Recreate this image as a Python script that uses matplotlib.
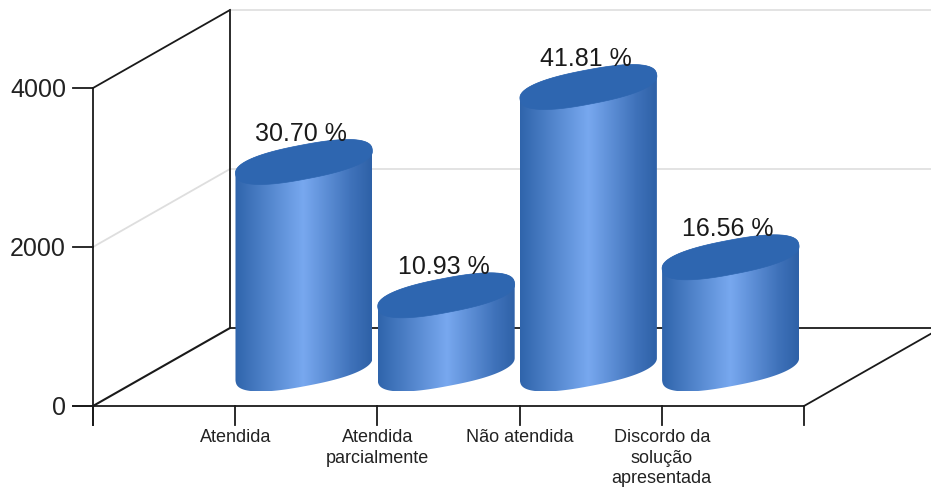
import numpy as np
import matplotlib
matplotlib.use('Agg')
import matplotlib.pyplot as plt
from matplotlib.colors import LinearSegmentedColormap
from matplotlib.patches import Polygon

plt.rcParams['font.family'] = ['Liberation Sans', 'DejaVu Sans']

categories = ['Atendida', 'Atendida\nparcialmente', 'Não atendida', 'Discordo da\nsolução\napresentada']
values = [2604, 927, 3547, 1405]
percents = ['30.70 %', '10.93 %', '41.81 %', '16.56 %']
yticks = [0, 2000, 4000]

W, H = 931, 490
# one category step and one value unit in pixels, then the depth of the 3d box
step = 142.2
unit = 318 / 4000
dx = 137 / step
dy = 78 / unit
xmax = 5

fig = plt.figure(figsize=(W / 100, H / 100), dpi=100)
ax = fig.add_axes([0, 0, 1, 1])
ax.axis('off')

black = '#1a1a1a'
grid = '#dedede'

# walls
for v in yticks[1:]:
    c = black if v == 4000 else grid
    ax.plot([0, dx], [v, v + dy], color=c, lw=1.3, zorder=1)
    ax.plot([dx, 7], [v + dy, v + dy], color=grid, lw=1.2, zorder=1)
ax.plot([0, dx], [0, dy], color=black, lw=1.5, zorder=1)
ax.plot([dx, dx], [dy, 4000 + dy], color=black, lw=1.3, zorder=1)
ax.plot([dx, 7], [dy, dy], color=black, lw=1.3, zorder=1)
ax.plot([xmax, xmax + dx], [0, dy], color=black, lw=1.3, zorder=1)

# axes in front
ax.plot([0, 0], [-240, 4000], color=black, lw=1.3, zorder=2)
ax.plot([-0.14, xmax], [0, 0], color=black, lw=1.3, zorder=2)
for v in yticks:
    ax.plot([-0.14, 0], [v, v], color=black, lw=1.3, zorder=2)
    ax.text(-0.19, v - 20, str(v), ha='right', va='center', fontsize=18, color='#222222')
for i in range(0, xmax + 1):
    ax.plot([i, i], [0, -240], color=black, lw=1.3, zorder=2)

cmap = LinearSegmentedColormap.from_list('cyl', [(0, '#2f64ab'), (0.5, '#78a8ef'), (0.85, '#3f72ba'), (1, '#2e61a7')])
grad = np.linspace(0, 1, 256).reshape(1, -1)

half_w = 68.5 / step
by = 22.5 / unit
base = 37 / unit

# cap outline in pixels: sheared ellipse, squared off a bit along its own axes
# because the caps in the original are fuller than a true ellipse
U, S, _ = np.linalg.svd(np.array([[56.0, 39.5], [0.0, 22.5]]))
tt = np.linspace(0, 2 * np.pi, 720, endpoint=False)
pw = 0.82
cc = np.sign(np.cos(tt)) * np.abs(np.cos(tt)) ** pw
ss = np.sign(np.sin(tt)) * np.abs(np.sin(tt)) ** pw
pts = U @ np.vstack([S[0] * cc, S[1] * ss])
shape_x = pts[0] / pts[0].max() * half_w
shape_y = pts[1] / pts[1].max() * by

# roll so the outline starts at the right extreme, split into upper and lower arcs
i_right = int(np.argmax(shape_x))
shape_x = np.roll(shape_x, -i_right)
shape_y = np.roll(shape_y, -i_right)
i_left = int(np.argmin(shape_x))
if shape_y[i_left // 2] < 0:
    shape_x, shape_y = shape_x[::-1], shape_y[::-1]
    i_left = int(np.argmin(shape_x))
up_x, up_y = shape_x[:i_left + 1], shape_y[:i_left + 1]
low_x, low_y = np.r_[shape_x[i_left:], shape_x[0]], np.r_[shape_y[i_left:], shape_y[0]]

for i, v in enumerate(values):
    cx = i + 1 + half_w + 0.002
    outline = np.vstack([np.column_stack([cx + low_x, base + low_y]),
                         np.column_stack([cx + up_x, base + v + up_y])])
    body = Polygon(outline, closed=True, fc='none', ec='none', zorder=3)
    ax.add_patch(body)
    im = ax.imshow(grad, cmap=cmap, extent=[cx - half_w, cx + half_w, base - by, base + v + by],
                   aspect='auto', zorder=3, interpolation='bilinear')
    im.set_clip_path(body)
    top = np.column_stack([cx + shape_x, base + v + shape_y])
    ax.add_patch(Polygon(top, closed=True, fc='#2e66b0', ec='#2e66b0', lw=0.5, zorder=4))
    ax.text(cx - 0.018, base + v + by + 5.5 / unit, percents[i], ha='center', va='center', fontsize=18,
            color='#1a1a1a', zorder=5)
    ax.text(i + 1, -295, categories[i], ha='center', va='top', fontsize=13, color='#222222', linespacing=1.25)

ax.set_xlim(-93 / step, (W - 93) / step)
ax.set_ylim((406 - H) / unit, 406 / unit)

fig.savefig('out.png', dpi=100)
